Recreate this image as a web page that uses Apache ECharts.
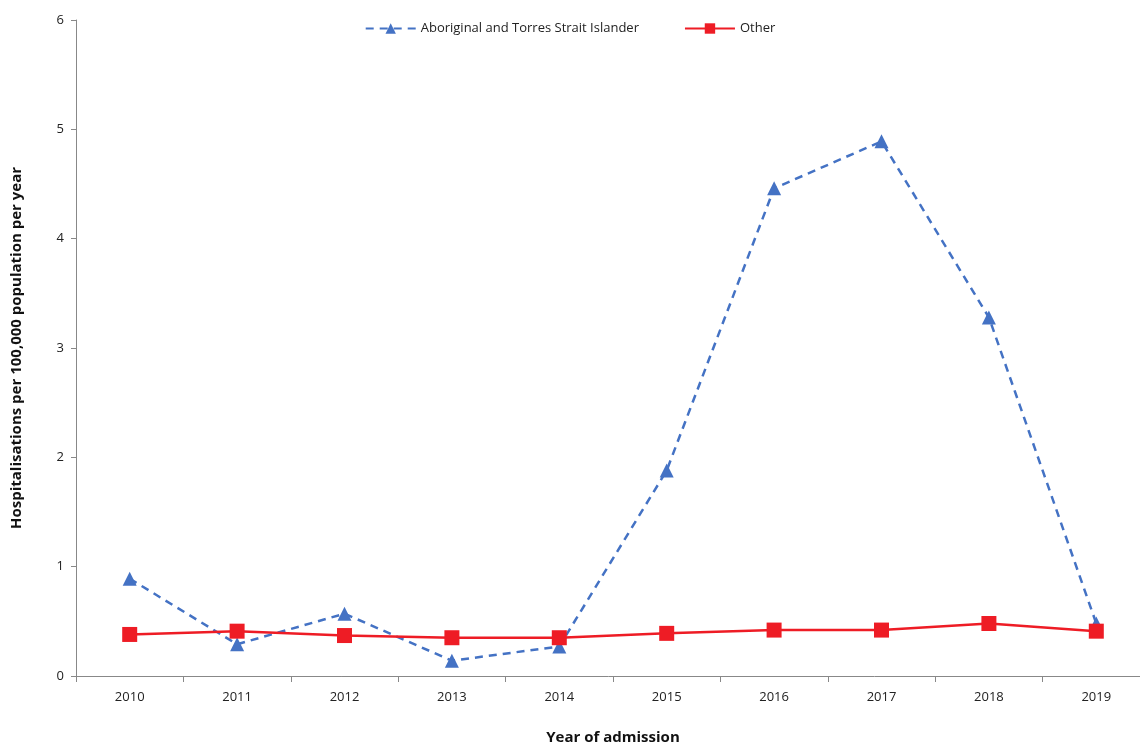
<!DOCTYPE html>
<html><head><meta charset="utf-8">
<script src="https://cdn.jsdelivr.net/npm/echarts@6/dist/echarts.min.js"></script>
<style>html,body{margin:0;padding:0;background:#fff}#c{width:1140px;height:747px}</style>
</head><body><div id="c"></div>
<script>
const years = ['2010','2011','2012','2013','2014','2015','2016','2017','2018','2019'];
const aboriginal = [0.89, 0.29, 0.57, 0.14, 0.27, 1.88, 4.46, 4.89, 3.28, 0.48];
const other = [0.38, 0.41, 0.37, 0.35, 0.35, 0.39, 0.42, 0.42, 0.48, 0.41];
const yTicks = [0, 1, 2, 3, 4, 5, 6];

const font = '"Open Sans", "Noto Sans", sans-serif';
const chart = echarts.init(document.getElementById('c'));
chart.setOption({
  animation: false,
  textStyle: { fontFamily: font },
  legend: {
    top: 17, left: 'center', itemGap: 45, itemWidth: 50, itemHeight: 13,
    textStyle: { fontFamily: font, fontSize: 13, color: '#222' },
    data: ['Aboriginal and Torres Strait Islander', 'Other']
  },
  grid: { left: 76, right: -10, top: 20, bottom: 71, outerBoundsMode: 'none', containLabel: false },
  xAxis: {
    type: 'category', data: years, boundaryGap: true,
    name: 'Year of admission', nameLocation: 'middle', nameGap: 54,
    nameTextStyle: { fontFamily: font, fontSize: 15, fontWeight: 'bold', color: '#111' },
    axisLine: { lineStyle: { color: '#888' } },
    axisTick: { show: true, length: 6, lineStyle: { color: '#888' } },
    axisLabel: { fontFamily: font, fontSize: 13, color: '#222', margin: 15 }
  },
  yAxis: {
    type: 'value', min: yTicks[0], max: yTicks[yTicks.length - 1], interval: 1,
    name: 'Hospitalisations per 100,000 population per year', nameLocation: 'middle', nameGap: 52,
    nameTextStyle: { fontFamily: font, fontSize: 15, fontWeight: 'bold', color: '#111' },
    axisLine: { show: true, lineStyle: { color: '#888' } },
    axisTick: { show: true, length: 5, lineStyle: { color: '#888' } },
    splitLine: { show: false },
    axisLabel: { fontFamily: font, fontSize: 13, color: '#222', margin: 12 }
  },
  series: [
    {
      name: 'Aboriginal and Torres Strait Islander', type: 'line', data: aboriginal,
      symbol: 'triangle', symbolSize: 14,
      itemStyle: { color: '#4472C4' },
      lineStyle: { color: '#4472C4', width: 2.5, type: [8, 6] }, z: 2
    },
    {
      name: 'Other', type: 'line', data: other,
      symbol: 'rect', symbolSize: 15,
      itemStyle: { color: '#EE1C25' },
      lineStyle: { color: '#EE1C25', width: 2.5 }, z: 3
    }
  ]
});
</script></body></html>
